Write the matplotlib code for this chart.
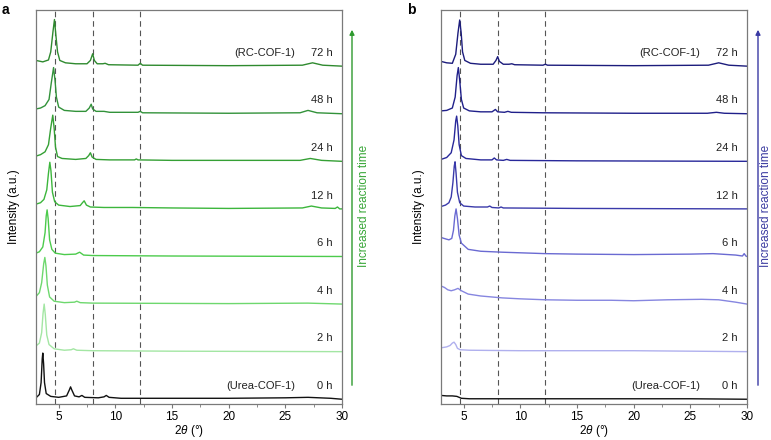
import matplotlib
matplotlib.use("Agg")
import matplotlib.pyplot as plt
from matplotlib.ticker import MultipleLocator

plt.rcParams['font.family'] = ['Liberation Sans', 'DejaVu Sans']
plt.rcParams['mathtext.fontset'] = 'custom'
plt.rcParams['mathtext.it'] = 'Liberation Sans:italic'
plt.rcParams['mathtext.rm'] = 'Liberation Sans'

# (2theta, intensity above own baseline)
a_0h = [(3.0,0.03),(3.3,0.10),(3.45,0.35),(3.55,0.85),(3.6,0.97),(3.67,0.75),(3.75,0.35),(3.9,0.12),(4.3,0.06),(5.0,0.04),(5.7,0.07),(5.95,0.20),(6.05,0.26),(6.15,0.20),(6.4,0.07),(6.8,0.05),(7.05,0.08),(7.3,0.04),(8.5,0.03),(9.0,0.05),(9.2,0.08),(9.45,0.04),(10.5,0.02),(15,0.02),(20,0.02),(25,0.03),(27,0.04),(29,0.02),(30,0.0)]
a_2h = [(3.0,0.12),(3.3,0.18),(3.5,0.4),(3.62,0.8),(3.72,1.0),(3.82,0.78),(3.95,0.35),(4.15,0.15),(4.6,0.06),(5.5,0.03),(6.1,0.04),(6.3,0.06),(6.6,0.03),(8,0.02),(15,0.01),(30,0.0)]
a_4h = [(3.0,0.16),(3.3,0.24),(3.5,0.45),(3.68,0.85),(3.78,0.98),(3.88,0.8),(4.0,0.4),(4.2,0.15),(4.6,0.06),(5.5,0.03),(6.4,0.04),(6.6,0.06),(6.9,0.03),(8,0.02),(20,0.01),(27,0.02),(30,0.0)]
a_6h = [(3.0,0.07),(3.3,0.10),(3.6,0.2),(3.8,0.5),(3.9,0.85),(3.98,0.98),(4.07,0.8),(4.2,0.35),(4.4,0.15),(4.7,0.07),(5.5,0.04),(6.5,0.05),(6.85,0.09),(7.2,0.03),(8,0.02),(15,0.01),(30,0.0)]
a_12h = [(3.0,0.10),(3.4,0.13),(3.7,0.2),(3.95,0.4),(4.1,0.75),(4.22,0.98),(4.32,0.8),(4.45,0.35),(4.65,0.15),(5.0,0.08),(6.0,0.05),(6.9,0.07),(7.1,0.13),(7.25,0.17),(7.45,0.08),(7.8,0.04),(9,0.03),(11.5,0.03),(15,0.02),(20,0.01),(26.5,0.02),(27.3,0.06),(28.2,0.02),(29.4,0.01),(29.6,0.04),(29.8,0.0),(30,0.0)]
a_24h = [(3.0,0.11),(3.4,0.14),(3.8,0.2),(4.1,0.35),(4.3,0.7),(4.48,0.97),(4.6,0.7),(4.72,0.3),(4.9,0.1),(5.3,0.06),(6.5,0.04),(7.4,0.06),(7.65,0.12),(7.8,0.18),(7.95,0.09),(8.3,0.04),(9.5,0.03),(11.7,0.03),(11.85,0.05),(12.0,0.03),(15,0.02),(20,0.02),(26.3,0.02),(27.2,0.06),(28.2,0.02),(30,0.0)]
a_48h = [(3.0,0.10),(3.4,0.12),(3.8,0.17),(4.15,0.3),(4.35,0.65),(4.55,0.97),(4.68,0.7),(4.8,0.35),(5.0,0.14),(5.5,0.07),(6.5,0.05),(7.4,0.05),(7.7,0.12),(7.87,0.2),(8.0,0.1),(8.3,0.05),(9.0,0.05),(9.5,0.03),(12.0,0.03),(12.2,0.05),(12.4,0.02),(20,0.01),(26.3,0.02),(27.0,0.07),(27.8,0.02),(30,0.0)]
a_72h = [(3.0,0.12),(3.6,0.09),(4.1,0.13),(4.3,0.3),(4.5,0.73),(4.63,0.98),(4.75,0.66),(4.9,0.3),(5.1,0.12),(5.6,0.07),(6.5,0.05),(7.5,0.05),(7.8,0.12),(8.0,0.26),(8.15,0.12),(8.4,0.05),(8.9,0.05),(9.1,0.06),(9.4,0.03),(12.0,0.02),(12.2,0.06),(12.4,0.02),(20,0.01),(26.5,0.02),(27.4,0.07),(28.3,0.02),(30,0.0)]

b_0h = [(3.0,0.08),(3.5,0.07),(4.0,0.07),(4.4,0.06),(4.8,0.02),(5.5,0.01),(10,0.01),(20,0.01),(25,0.01),(30,0.0)]
b_2h = [(3.0,0.08),(3.5,0.1),(3.8,0.13),(4.0,0.18),(4.15,0.2),(4.3,0.15),(4.45,0.07),(4.7,0.04),(5.5,0.03),(10,0.02),(20,0.02),(30,0.0)]
b_4h = [(3.0,0.38),(3.3,0.35),(3.6,0.3),(3.9,0.28),(4.2,0.3),(4.5,0.33),(4.8,0.28),(5.4,0.21),(6.5,0.17),(8.4,0.13),(10,0.11),(12.2,0.09),(15,0.08),(18,0.08),(20,0.07),(23,0.09),(26,0.1),(27.5,0.09),(29,0.04),(30,0.0)]
b_6h = [(3.0,0.40),(3.4,0.37),(3.7,0.35),(3.95,0.38),(4.1,0.55),(4.22,0.85),(4.33,1.0),(4.45,0.8),(4.6,0.45),(4.8,0.28),(5.4,0.15),(6.5,0.11),(8.4,0.09),(12.2,0.06),(15,0.05),(20,0.04),(25,0.05),(27,0.06),(29,0.03),(29.6,0.01),(29.75,0.06),(29.9,0.01),(30,0.0)]
b_12h = [(3.0,0.05),(3.4,0.08),(3.7,0.13),(3.9,0.25),(4.05,0.55),(4.17,0.9),(4.24,0.99),(4.33,0.75),(4.45,0.35),(4.65,0.13),(5.0,0.06),(6.0,0.04),(7.1,0.04),(7.3,0.06),(7.5,0.03),(8.1,0.02),(8.3,0.04),(8.5,0.02),(15,0.01),(30,0.0)]
b_24h = [(3.0,0.04),(3.5,0.08),(3.9,0.18),(4.15,0.45),(4.3,0.85),(4.38,0.95),(4.48,0.75),(4.6,0.35),(4.8,0.12),(5.2,0.06),(6.5,0.03),(7.5,0.03),(7.7,0.07),(7.9,0.03),(8.5,0.02),(8.8,0.04),(9.1,0.02),(15,0.01),(30,0.0)]
b_48h = [(3.0,0.06),(3.5,0.07),(4.0,0.12),(4.25,0.35),(4.42,0.8),(4.53,0.97),(4.65,0.7),(4.8,0.3),(5.0,0.12),(5.5,0.06),(6.5,0.04),(7.5,0.04),(7.8,0.09),(8.0,0.04),(8.6,0.03),(8.9,0.05),(9.2,0.03),(12,0.02),(20,0.01),(26.5,0.01),(27.3,0.03),(28,0.01),(30,0.0)]
b_72h = [(3.0,0.1),(3.5,0.07),(4.0,0.06),(4.3,0.25),(4.5,0.7),(4.65,0.97),(4.78,0.7),(4.9,0.3),(5.1,0.12),(5.6,0.06),(6.5,0.04),(7.6,0.04),(7.85,0.12),(8.0,0.2),(8.15,0.1),(8.5,0.04),(9.0,0.04),(9.25,0.05),(9.5,0.03),(12.0,0.02),(12.2,0.04),(12.4,0.02),(20,0.01),(26.6,0.02),(27.5,0.07),(28.4,0.02),(30,0.0)]

times = ["0 h", "2 h", "4 h", "6 h", "12 h", "24 h", "48 h", "72 h"]
curves_a = [a_0h, a_2h, a_4h, a_6h, a_12h, a_24h, a_48h, a_72h]
curves_b = [b_0h, b_2h, b_4h, b_6h, b_12h, b_24h, b_48h, b_72h]
colors_a = ["#111111", "#a3e6a3", "#6ed86e", "#4ccb4c", "#3cb63c", "#35a035", "#32923a", "#2f8a2f"]
colors_b = ["#111111", "#b0b0ee", "#8686e0", "#6a6ad2", "#3a3aaa", "#28289a", "#20208a", "#1c1c7c"]
guide_lines = [4.7, 8.0, 12.2]

fig = plt.figure(figsize=(7.71, 4.40), dpi=100)
ax1 = fig.add_axes([36/771, 36/440, 306/771, 394/440])
ax2 = fig.add_axes([441/771, 36/440, 306/771, 394/440])

for ax, curves, colors in [(ax1, curves_a, colors_a), (ax2, curves_b, colors_b)]:
    for x in guide_lines:
        ax.axvline(x, color="#555555", lw=0.8, ls=(0, (5, 3.5)), zorder=1)
    for i, c in enumerate(curves):
        xs = [p[0] for p in c]
        ys = [p[1] + i for p in c]
        ax.plot(xs, ys, color=colors[i], lw=1.0, zorder=2)
        ax.text(29.2, i + 0.28, times[i], ha="right", va="center", fontsize=8, color="#222222")
    ax.text(25.9, 7.28, "(RC-COF-1)", ha="right", va="center", fontsize=8, color="#222222")
    ax.text(25.9, 0.28, "(Urea-COF-1)", ha="right", va="center", fontsize=8, color="#222222")
    ax.set_xlim(3, 30)
    ax.set_ylim(-0.1, 8.18)
    ax.set_yticks([])
    ax.xaxis.set_major_locator(MultipleLocator(5))
    ax.xaxis.set_minor_locator(MultipleLocator(2.5))
    ax.tick_params(axis="x", which="major", direction="out", length=3, width=0.8,
                   color="#777777", labelsize=8.5, pad=2)
    ax.tick_params(axis="x", which="minor", direction="out", length=2, width=0.6, color="#777777")
    for s in ax.spines.values():
        s.set_color("#7a7a7a")
        s.set_linewidth(0.9)

for xc in [189/771, 594/771]:
    fig.text(xc, 1 - 431/440, r"2$\it{\theta}$ (°)", ha="center", va="center", fontsize=8.5)
for xc in [14/771, 419/771]:
    fig.text(xc, 1 - 207/440, "Intensity (a.u.)", ha="center", va="center", rotation=90, fontsize=8.5)

fig.text(2/771, 1 - 10/440, "a", ha="left", va="center", fontsize=10, fontweight="bold")
fig.text(407/771, 1 - 10/440, "b", ha="left", va="center", fontsize=10, fontweight="bold")

for xa, col, tcol, xt in [(352, "#2e9a2e", "#36a636", 364), (758, "#3a3aa4", "#3a3aa0", 766)]:
    fig.patches.append(matplotlib.patches.FancyArrowPatch(
        (xa/771, 1 - 388/440), (xa/771, 1 - 27/440), transform=fig.transFigure,
        arrowstyle="-|>", mutation_scale=7, lw=1.0, color=col))
    fig.text(xt/771, 1 - 206/440, "Increased reaction time", ha="center", va="center",
             rotation=90, fontsize=8.5, color=tcol)

plt.savefig("out.png", dpi=100)
